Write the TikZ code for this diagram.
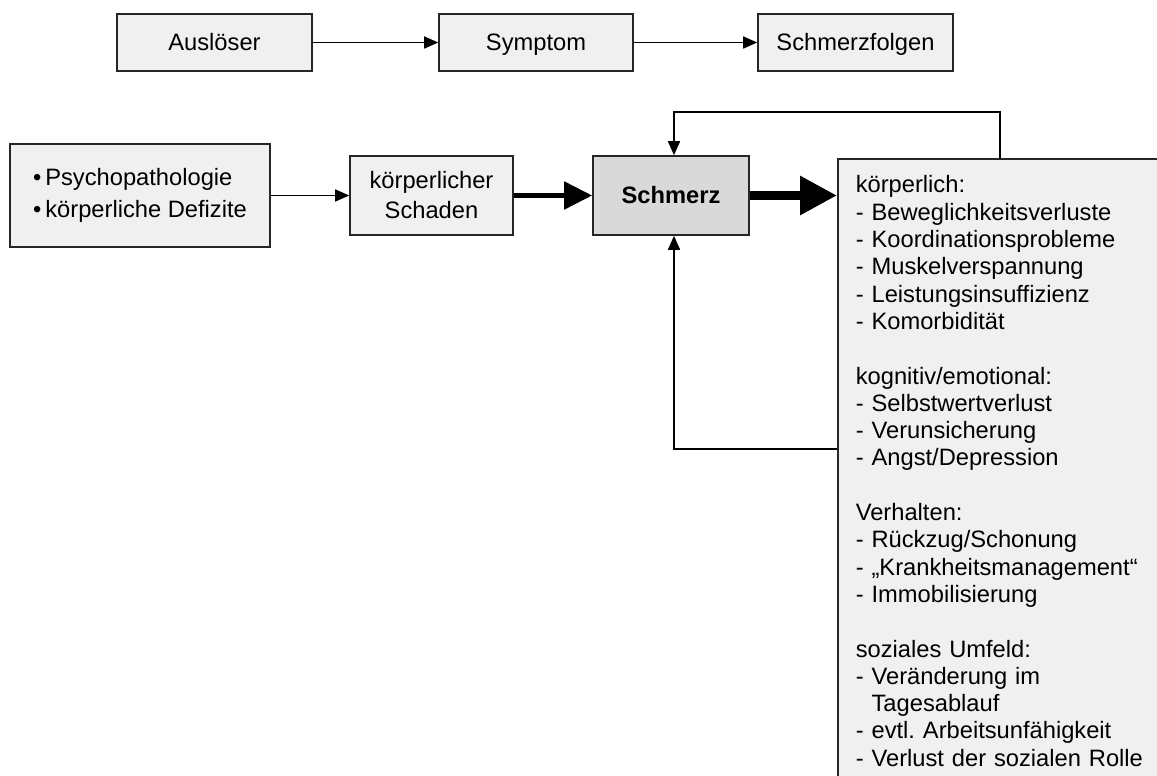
\documentclass[tikz,border=0pt]{standalone}
\usepackage{fontspec}
\setmainfont{Liberation Sans}
\frenchspacing
\usetikzlibrary{arrows.meta,positioning}
\definecolor{boxfill}{HTML}{F0F0F0}
\definecolor{kernfill}{HTML}{D9D9D9}
\definecolor{rand}{HTML}{262626}
\tikzset{box node/.style={rectangle,draw=rand,fill=boxfill,line width=1.6pt,inner sep=0pt,
                          font=\fontsize{23.7}{27.3}\selectfont},
         single line/.style={text height=18pt,text depth=2pt},
         kern node/.style={box node,single line,fill=kernfill,font=\fontsize{23.7}{27.3}\selectfont\bfseries},
         thin arrow/.style={line width=1.6pt,-{Triangle[length=14pt,width=12pt]}},
         mid arrow/.style={line width=5pt,-{Triangle[length=28pt,width=27pt]}},
         fat arrow/.style={line width=9pt,-{Triangle[length=37pt,width=37pt]}},
}
\begin{document}
\begin{tikzpicture}[x=1pt,y=-1pt]
\useasboundingbox (0,0) rectangle (1157,776);
\clip (0,0) rectangle (1157,776);
% obere Zeile
\node[box node,single line,minimum width=195pt,minimum height=57pt] (ausl) at (214.5,42.5) {Auslöser};
\node[box node,single line,minimum width=194pt,minimum height=57pt] (sympt) at (536,42.5) {Symptom};
\node[box node,single line,minimum width=195pt,minimum height=57pt] (folgen) at (855.5,42.5) {Schmerzfolgen};
\draw[thin arrow] (ausl) -- (sympt);
\draw[thin arrow] (sympt) -- (folgen);
% Modell
\node[box node,minimum width=260pt,minimum height=103pt,align=left,
      font=\fontsize{23.7}{32.7}\selectfont] (urs) at (140,195.5)
      {\textbullet\,Psychopathologie\\ \textbullet\,körperliche Defizite};
\node[box node,minimum width=163pt,minimum height=79pt,align=center,
      font=\fontsize{23.7}{30}\selectfont] (schaden) at (431.5,195.5) {körperlicher\\ Schaden};
\node[kern node,minimum width=156pt,minimum height=79pt] (schmerz) at (671,195.5) {Schmerz};
\node[box node,anchor=north west,inner xsep=18pt,inner ysep=17pt,text width=312pt,align=left]
      (folgenbox) at (837,158)
      {körperlich:\\
       - Beweglichkeitsverluste\\
       - Koordinationsprobleme\\
       - Muskelverspannung\\
       - Leistungsinsuffizienz\\
       - Komorbidität\\[27.3pt]
       kognitiv/emotional:\\
       - Selbstwertverlust\\
       - Verunsicherung\\
       - Angst/Depression\\[27.3pt]
       Verhalten:\\
       - Rückzug/Schonung\\
       - „Krankheitsmanagement“\\
       - Immobilisierung\\[27.3pt]
       soziales Umfeld:\\
       - Veränderung im\\
       \phantom{- }Tagesablauf\\
       - evtl. Arbeitsunfähigkeit\\
       - Verlust der sozialen Rolle\\[40pt]};
\draw[thin arrow] (urs) -- (schaden);
\draw[mid arrow] (schaden) -- (schmerz);
\draw[fat arrow] (schmerz) -- (schmerz -| folgenbox.west);
% Rueckkopplung
\coordinate (rueckoben) at ([xshift=163pt]folgenbox.north west);
\coordinate (rueckunten) at ([yshift=-291pt]folgenbox.north west);
\draw[thin arrow] (rueckoben) -- ++(0,-46) -| ([xshift=3pt]schmerz.north);
\draw[thin arrow] (rueckunten) -| ([xshift=3pt]schmerz.south);
\end{tikzpicture}
\end{document}
